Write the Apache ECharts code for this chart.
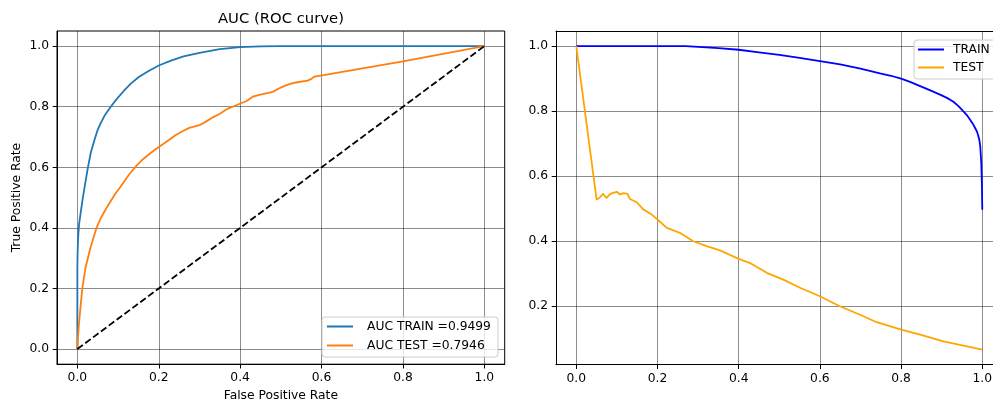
<!DOCTYPE html>
<html>
<head>
<meta charset="utf-8">
<script src="https://cdn.jsdelivr.net/npm/echarts@6/dist/echarts.min.js"></script>
<style>
  html, body { margin: 0; padding: 0; background: #ffffff; }
  #chart { width: 993px; height: 402px; }
</style>
</head>
<body>
<div id="chart"></div>
<script>
// ROC curve, train split
const rocTrainFpr = [0, 0, 0.0005, 0.0016, 0.004, 0.008, 0.013, 0.018, 0.026, 0.033, 0.042, 0.049, 0.057, 0.068, 0.082, 0.097, 0.114, 0.132, 0.151, 0.175, 0.2, 0.23, 0.261, 0.3, 0.35, 0.4, 0.45, 0.5, 1.0];
const rocTrainTpr = [0, 0.262, 0.31, 0.361, 0.41, 0.449, 0.495, 0.536, 0.6, 0.648, 0.69, 0.72, 0.745, 0.773, 0.8, 0.826, 0.852, 0.877, 0.898, 0.918, 0.936, 0.952, 0.966, 0.978, 0.99, 0.997, 0.999, 1.0, 1.0];

// ROC curve, test split
const rocTestFpr = [0, 0.0016, 0.004, 0.0082, 0.0122, 0.0204, 0.0327, 0.047, 0.057, 0.067, 0.078, 0.092, 0.106, 0.128, 0.145, 0.159, 0.18, 0.2, 0.225, 0.24, 0.257, 0.275, 0.30, 0.315, 0.333, 0.35, 0.37, 0.398, 0.415, 0.431, 0.45, 0.48, 0.495, 0.508, 0.525, 0.537, 0.566, 0.575, 0.582, 0.598, 0.8, 1.0];
const rocTestTpr = [0, 0.04, 0.084, 0.145, 0.2, 0.271, 0.337, 0.40, 0.431, 0.455, 0.48, 0.51, 0.536, 0.578, 0.605, 0.624, 0.647, 0.667, 0.69, 0.705, 0.718, 0.73, 0.739, 0.75, 0.765, 0.777, 0.794, 0.809, 0.818, 0.833, 0.84, 0.849, 0.86, 0.868, 0.876, 0.880, 0.886, 0.892, 0.899, 0.903, 0.950, 1.0];

// chance diagonal
const chanceX = [0, 1];
const chanceY = [0, 1];

// right panel curves
const rightTrainX = [0, 0.27, 0.3, 0.35, 0.4, 0.45, 0.5, 0.55, 0.6, 0.65, 0.7, 0.748, 0.775, 0.8, 0.822, 0.847, 0.872, 0.896, 0.913, 0.929, 0.942, 0.953, 0.962, 0.97, 0.977, 0.982, 0.987, 0.99, 0.993, 0.995, 0.9975, 0.999, 1.0];
const rightTrainY = [1, 1, 0.998, 0.994, 0.989, 0.981, 0.973, 0.964, 0.954, 0.944, 0.931, 0.916, 0.909, 0.9, 0.89, 0.877, 0.864, 0.851, 0.841, 0.829, 0.815, 0.8, 0.788, 0.774, 0.761, 0.749, 0.737, 0.725, 0.71, 0.692, 0.641, 0.58, 0.497];

const rightTestX = [0, 0.05, 0.058, 0.066, 0.074, 0.083, 0.091, 0.0995, 0.108, 0.116, 0.126, 0.132, 0.149, 0.165, 0.186, 0.2, 0.223, 0.255, 0.288, 0.321, 0.354, 0.4, 0.428, 0.469, 0.51, 0.551, 0.6, 0.649, 0.699, 0.74, 0.8, 0.847, 0.904, 1.0];
const rightTestY = [1.0, 0.528, 0.535, 0.546, 0.533, 0.545, 0.549, 0.552, 0.544, 0.548, 0.546, 0.530, 0.52, 0.498, 0.482, 0.467, 0.441, 0.426, 0.40, 0.385, 0.372, 0.346, 0.333, 0.303, 0.282, 0.257, 0.231, 0.2, 0.174, 0.151, 0.128, 0.113, 0.092, 0.067];

// tick labels
const xTicks = [0.0, 0.2, 0.4, 0.6, 0.8, 1.0];
const yTicksLeft = [0.0, 0.2, 0.4, 0.6, 0.8, 1.0];
const yTicksRight = [0.2, 0.4, 0.6, 0.8, 1.0];

// legend texts and titles
const trainLabel = 'AUC TRAIN =0.9499';
const testLabel = 'AUC TEST =0.7946';
const titleText = 'AUC (ROC curve)';
const xName = 'False Positive Rate';
const yName = 'True Positive Rate';

const FONT = 'DejaVu Sans';
const LABEL_SIZE = 12.3;

function pairs(xs, ys) { return xs.map((x, i) => [x, ys[i]]); }

// 5% padding around the data extent
function padded(values) {
  const lo = Math.min(...values), hi = Math.max(...values);
  const m = (hi - lo) * 0.05;
  return [lo - m, hi + m];
}

function axis(gridIndex, range, ticks, extra) {
  return Object.assign({
    type: 'value',
    gridIndex: gridIndex,
    min: range[0],
    max: range[1],
    axisLine: { show: true, onZero: false, lineStyle: { color: '#000', width: 1 } },
    axisTick: { show: true, inside: false, length: 4.3, customValues: ticks, lineStyle: { color: '#000', width: 1 } },
    axisLabel: {
      customValues: ticks,
      formatter: v => Number(v).toFixed(1),
      margin: 8,
      fontFamily: FONT,
      fontSize: LABEL_SIZE,
      color: '#000'
    },
    splitLine: { show: true, lineStyle: { color: 'rgba(0,0,0,0.45)', width: 1 } }
  }, extra || {});
}

const nameStyle = { fontFamily: FONT, fontSize: LABEL_SIZE, color: '#000' };

const legendBase = {
  orient: 'vertical',
  icon: 'rect',
  itemWidth: 26,
  itemHeight: 2,
  itemGap: 6,
  selectedMode: false,
  backgroundColor: 'rgba(255,255,255,0.8)',
  borderColor: '#cccccc',
  borderWidth: 1,
  borderRadius: 3,
  textStyle: { fontFamily: FONT, fontSize: LABEL_SIZE, color: '#000', lineHeight: 13 }
};

const line = (name, data, color, xi, extra) => Object.assign({
  name: name,
  type: 'line',
  xAxisIndex: xi,
  yAxisIndex: xi,
  data: data,
  symbol: 'none',
  showSymbol: false,
  lineStyle: { color: color, width: 1.8 },
  itemStyle: { color: color },
  z: 3
}, extra || {});

// the right panel's frame runs past the page edge; only x up to this value is on screen
const rightXRange = [-0.05, 1.0264];

const option = {
  animation: false,
  backgroundColor: '#ffffff',
  title: {
    text: titleText,
    left: 218,
    top: 12,
    padding: 0,
    textStyle: { fontFamily: FONT, fontSize: 14.8, fontWeight: 'normal', color: '#000' }
  },
  grid: [
    { left: 57, top: 31, width: 447.7, height: 333.2, show: true, borderColor: '#000', borderWidth: 1, backgroundColor: 'transparent', outerBoundsMode: 'none', containLabel: false },
    { left: 556, top: 31, right: 0, height: 333.7, show: false, outerBoundsMode: 'none', containLabel: false }
  ],
  xAxis: [
    axis(0, [-0.05, 1.05], xTicks, {
      name: xName, nameLocation: 'middle', nameGap: 26, nameTextStyle: nameStyle
    }),
    axis(1, rightXRange, xTicks),
    // top frame edge of the right panel
    {
      type: 'value', gridIndex: 1, position: 'top', min: rightXRange[0], max: rightXRange[1],
      axisLine: { show: true, onZero: false, lineStyle: { color: '#000', width: 1 } },
      axisTick: { show: false }, axisLabel: { show: false }, splitLine: { show: false }
    }
  ],
  yAxis: [
    axis(0, [-0.05, 1.05], yTicksLeft, {
      name: yName, nameLocation: 'middle', nameGap: 34, nameTextStyle: nameStyle
    }),
    axis(1, padded(rightTrainY.concat(rightTestY)), yTicksRight)
  ],
  legend: [
    Object.assign({}, legendBase, {
      left: 322, top: 317,
      padding: [3, 7, 5, 5],
      data: [trainLabel, testLabel],
      textStyle: Object.assign({}, legendBase.textStyle, { padding: [0, 0, 0, 9] })
    }),
    Object.assign({}, legendBase, {
      left: 914, top: 40,
      padding: [3, 14, 5, 4],
      itemGap: 5,
      data: ['TRAIN', 'TEST'],
      textStyle: Object.assign({}, legendBase.textStyle, { padding: [0, 0, 0, 4] })
    })
  ],
  series: [
    line(trainLabel, pairs(rocTrainFpr, rocTrainTpr), '#1f77b4', 0),
    line(testLabel, pairs(rocTestFpr, rocTestTpr), '#ff7f0e', 0),
    line('chance', pairs(chanceX, chanceY), '#000000', 0, {
      lineStyle: { color: '#000000', width: 1.8, type: [6.8, 3] }, z: 4
    }),
    line('TRAIN', pairs(rightTrainX, rightTrainY), '#0000ff', 1),
    line('TEST', pairs(rightTestX, rightTestY), '#ffa500', 1)
  ]
};

const chart = echarts.init(document.getElementById('chart'), null, { renderer: 'canvas' });
chart.setOption(option);
</script>
</body>
</html>
